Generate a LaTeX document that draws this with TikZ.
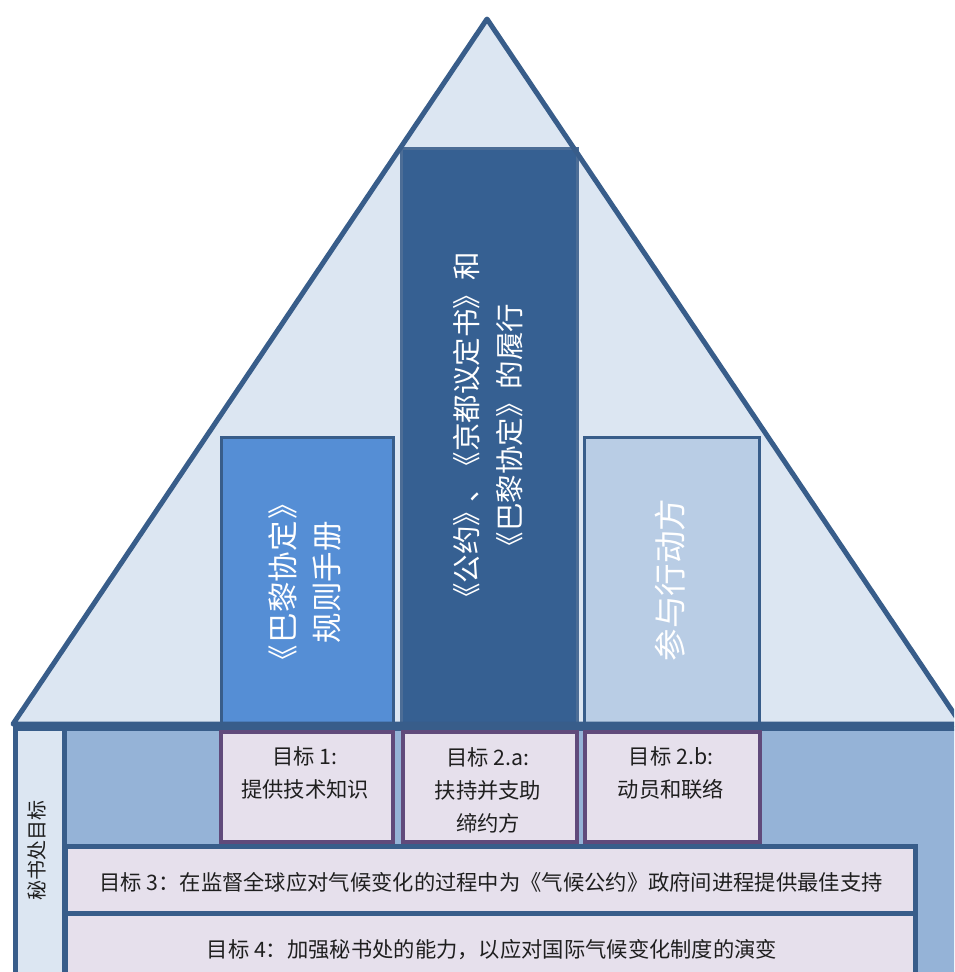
\documentclass[tikz,border=0pt]{standalone}
\usepackage{fontspec}
\setmainfont{Noto Sans CJK SC}
\newfontfamily\pillarfont{Noto Sans CJK SC}[CharacterWidth=AlternateProportional]
\definecolor{edgeblue}{HTML}{385D8A}
\definecolor{trifill}{HTML}{DCE6F2}
\definecolor{bodyfill}{HTML}{95B3D7}
\definecolor{pillarL}{HTML}{558ED5}
\definecolor{pillarM}{HTML}{366092}
\definecolor{pillarR}{HTML}{B9CDE5}
\definecolor{goalfill}{HTML}{E6E0EC}
\definecolor{goaledge}{HTML}{604A7B}
\begin{document}
\begin{tikzpicture}[x=1pt,y=-1pt,
  blk/.style={draw=edgeblue, rectangle, inner sep=0pt, anchor=north west},
  pillar/.style={blk, line width=3pt},
  goalbox/.style={rectangle, draw=goaledge, fill=goalfill, line width=4pt, inner sep=0pt, anchor=north west},
  wide/.style={blk, fill=goalfill, line width=4.5pt},
  ptext/.style={text=white, rotate=90, align=center, inner sep=0pt},
  gtext/.style={text=black!88, align=center, inner sep=0pt, font=\fontsize{21.3}{33}\selectfont},
  wtext/.style={text=black!88, inner sep=0pt, font=\fontsize{21.3}{24}\selectfont}
]
\useasboundingbox (0,0) rectangle (954,972);
\clip (0,0) rectangle (954,972);
% triangle
\coordinate (apex) at (487,19);
\coordinate (bl) at (13,724);
\coordinate (br) at (961,724);
\fill[trifill] (apex) -- (bl) -- (br) -- cycle;
% pillars
\node[pillar, fill=pillarL, minimum width=172.5pt, minimum height=290pt] (pl) at (219.5,436) {};
\node[pillar, fill=pillarM, draw=edgeblue!90, minimum width=176pt, minimum height=578pt] (pm) at (400,147) {};
\node[pillar, fill=pillarR, minimum width=175pt, minimum height=290pt] (pr) at (583,436) {};
% triangle outline
\draw[edgeblue, line width=5pt, line join=round] (apex) -- (bl) -- (br) -- cycle;
% body
\node[blk, fill=bodyfill, line width=5pt, minimum width=1000pt, minimum height=300pt] (body) at (13,726) {};
\node[blk, fill=trifill, line width=4.5pt, minimum width=49pt, minimum height=300pt] (col) at (13,726) {};
% goal boxes
\node[goalbox, minimum width=172pt, minimum height=110pt] (g1) at (219,730) {};
\node[goalbox, minimum width=174pt, minimum height=110pt] (g2a) at (401,730) {};
\node[goalbox, minimum width=175pt, minimum height=110pt] (g2b) at (583,730) {};
\node[wide, minimum width=850pt, minimum height=67pt] (g3) at (63,844) {};
\node[wide, minimum width=850pt, minimum height=100pt] (g4) at (63,911) {};
% texts
\node[ptext, font=\pillarfont\fontsize{30.5}{44}\selectfont] (tl) at (305,582) {《\kern2.5pt 巴黎协定\kern2.5pt》\\规则手册};
\node[ptext, font=\fontsize{28.5}{43}\selectfont] (tm) at (488.5,432) {《公约》\kern-5pt、\kern-6pt《京都议定书》和\\《巴黎协定》的履行};
\node[ptext, font=\fontsize{32.5}{44}\selectfont] (tr) at (670,580) {参与行动方};
\node[gtext] (t1) at (305,773) {目标 1:\\提供技术知识};
\node[gtext] (t2a) at (488,790) {目标 2.a:\\扶持并支助\\缔约方};
\node[gtext] (t2b) at (671,773) {目标 2.b:\\动员和联络};
\node[wtext] (t3) at (491,882) {目标 3：在监督全球应对气候变化的过程中为《气候公约》政府间进程提供最佳支持};
\node[wtext] (t4) at (492,950) {目标 4：加强秘书处的能力，以应对国际气候变化制度的演变};
\node[wtext, rotate=90, font=\fontsize{20}{22}\selectfont] (tc) at (37,850) {秘书处目标};
\end{tikzpicture}
\end{document}
